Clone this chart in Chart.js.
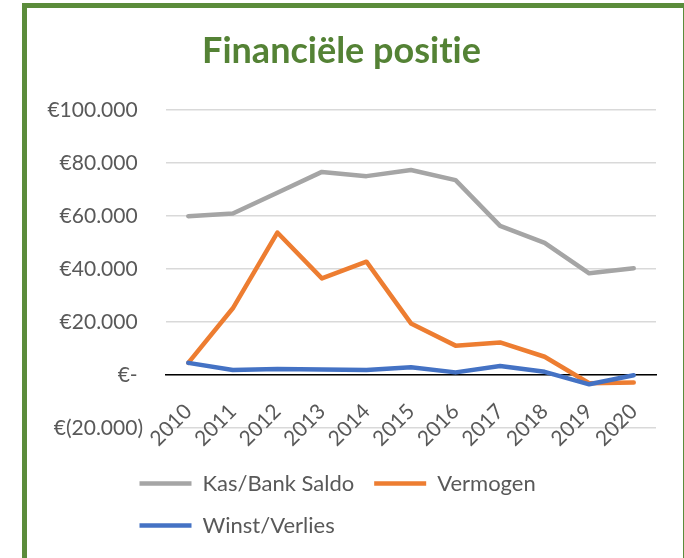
<!DOCTYPE html>
<html>
<head>
<meta charset="utf-8">
<script src="https://cdn.jsdelivr.net/npm/chart.js@4.4.1/dist/chart.umd.min.js"></script>
<style>
  body { margin: 0; background: #fff; }
  #frame { position: absolute; left: 22px; top: 3px; width: 656px; height: 600px; border: 5px solid #5b8c3b; }
  #myChart { position: absolute; left: 0; top: 0; }
</style>
</head>
<body>
<div id="frame"><canvas id="myChart" width="640" height="550"></canvas></div>
<script>
// data
const years = ['2010', '2011', '2012', '2013', '2014', '2015', '2016', '2017', '2018', '2019', '2020'];
const kasBank = [60000, 61000, 68800, 76700, 75100, 77400, 73600, 56300, 49900, 38400, 40300];
const vermogen = [4600, 25200, 53800, 36500, 42800, 19500, 11100, 12300, 6900, -3100, -2800];
const winstVerlies = [4600, 1900, 2300, 2100, 1900, 2900, 1000, 3400, 1200, -3500, -100];
const yTicks = [-20000, 0, 20000, 40000, 60000, 80000, 100000];

const tickFont = { family: 'Lato', size: 21 };
const legendFont = { family: 'Lato', size: 22 };
const grey = '#595959';

// excel accounting format: €100.000 / €- / €(20.000)
const thousands = n => String(n).replace(/\B(?=(\d{3})+(?!\d))/g, '.');
const euro = v => {
    if (v === 0) return '€- ';
    if (v < 0) return '€(' + thousands(-v) + ')';
    return '€' + thousands(v) + ' ';
};

// move legend so it starts left of the plot area, like in excel
const legendShift = {
    id: 'legendShift',
    afterLayout(chart) {
        chart.legend.left = 92.5;
    }
};

const ctx = document.getElementById('myChart');
const myChart = new Chart(ctx, {
    type: 'line',
    data: {
        labels: years,
        datasets: [
            { label: 'Kas/Bank Saldo', data: kasBank, borderColor: '#a5a5a5', backgroundColor: '#a5a5a5', borderWidth: 4.5, order: 3 },
            { label: 'Vermogen', data: vermogen, borderColor: '#ed7d31', backgroundColor: '#ed7d31', borderWidth: 4.5, order: 2 },
            { label: 'Winst/Verlies', data: winstVerlies, borderColor: '#4472c4', backgroundColor: '#4472c4', borderWidth: 4.5, order: 1 }
        ]
    },
    options: {
        responsive: false,
        animation: false,
        layout: { padding: { left: 0, right: 11, top: 0, bottom: 11.5 } },
        elements: {
            point: { radius: 0 },
            line: { borderCapStyle: 'round', borderJoinStyle: 'round', tension: 0 }
        },
        scales: {
            x: {
                position: { y: 0 },
                offset: true,
                // rotated labels should not eat into the plot width
                afterFit: scale => { scale.paddingLeft = 0; scale.paddingRight = 0; },
                grid: { display: false, drawTicks: false },
                border: { display: true, color: '#000', width: 1.5 },
                ticks: { minRotation: 45, maxRotation: 45, padding: 24, color: grey, font: tickFont }
            },
            y: {
                min: -20000,
                max: 100000,
                afterBuildTicks: scale => { scale.ticks = yTicks.map(v => ({ value: v })); },
                afterFit: scale => { scale.width = 139; },
                grid: { color: '#d9d9d9', lineWidth: 1.5, drawTicks: false },
                border: { display: false },
                ticks: { padding: 23, color: grey, font: tickFont, callback: v => euro(v) }
            }
        },
        plugins: {
            title: {
                display: true,
                // zero width non-joiner keeps Lato from using its "ti" ligature
                text: 'Financiële posit\u200Cie',
                color: '#548235',
                font: { family: 'Lato', size: 36, weight: 'bold' },
                padding: { top: 22, bottom: 37 }
            },
            legend: {
                position: 'bottom',
                align: 'start',
                fullSize: false,
                title: { display: true, text: '', padding: 6.25, font: { size: 10 } },
                labels: {
                    usePointStyle: true,
                    pointStyle: 'line',
                    pointStyleWidth: 52,
                    padding: 20,
                    color: grey,
                    font: legendFont,
                    sort: (a, b) => a.datasetIndex - b.datasetIndex
                }
            },
            tooltip: { enabled: false }
        }
    },
    plugins: [legendShift]
});
</script>
</body>
</html>
